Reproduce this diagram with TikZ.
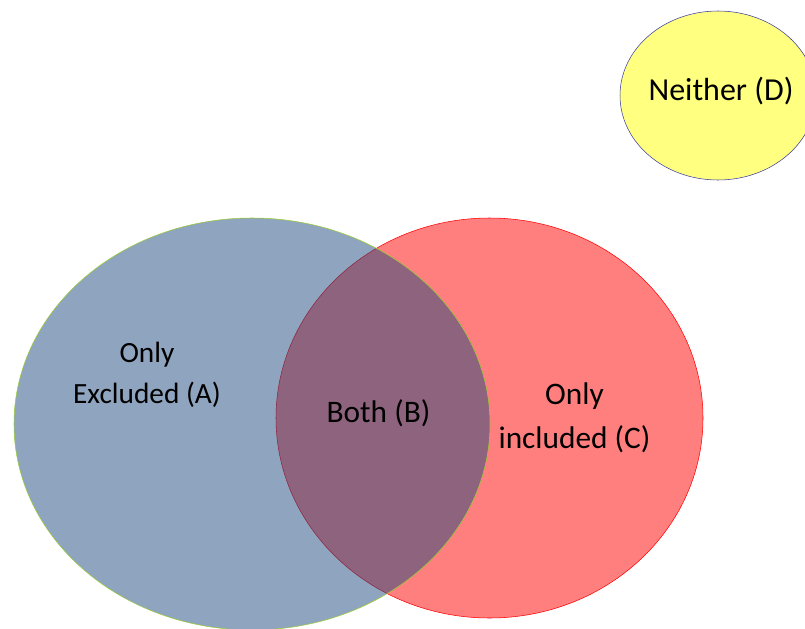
\documentclass[tikz,border=0pt]{standalone}
\usepackage{fontspec}
\setmainfont{Carlito}
\definecolor{setblue}{RGB}{31,73,125}
\definecolor{setgreen}{RGB}{154,205,50}
\definecolor{setyellow}{RGB}{255,255,128}
\definecolor{setnavy}{RGB}{60,60,160}
\begin{document}
\begin{tikzpicture}[x=0.75pt, y=-0.75pt,
  every node/.style={font=\fontsize{22}{31}\selectfont, black, inner sep=0pt, align=center},
  setC/.style={draw=red, fill=red, fill opacity=0.5},
  setA/.style={draw=setgreen, fill=setblue, fill opacity=0.5},
  setD/.style={draw=setnavy, fill=setyellow}]
% Page frame
\clip (0,0) rectangle (805,628);

% Sets (included under excluded)
\draw[setC] (489.5,418) ellipse (213.5 and 200);
\draw[setA] (252,424) ellipse (238 and 206);
\draw[setD] (718,95.5) ellipse (98 and 84.5);

% Region labels
\node (onlyA) at (147,375) {Only\\Excluded (A)};
\node[font=\fontsize{23.5}{31}\selectfont] (bothB) at (378.5,413) {Both (B)};
\node[font=\fontsize{23.5}{33}\selectfont] (onlyC) at (574.5,418) {Only\\included (C)};
\node[font=\fontsize{24}{30}\selectfont] (neitherD) at (721,91) {Neither (D)};
\end{tikzpicture}
\end{document}
